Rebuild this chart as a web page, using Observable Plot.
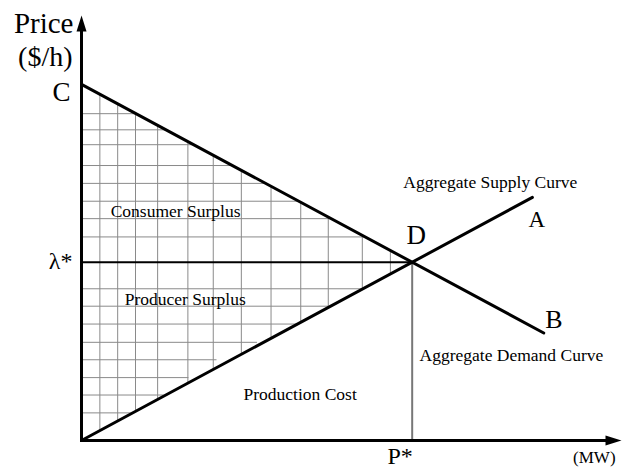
<!DOCTYPE html>
<html><head><meta charset="utf-8">
<script src="https://cdn.jsdelivr.net/npm/d3@7"></script>
<script src="https://cdn.jsdelivr.net/npm/@observablehq/plot@0.6"></script>
<style>body{margin:0;background:#fff}</style>
</head><body><div id="chart"></div>
<script>
// Curve end points (quantity q, price p) in chart units
const demandPoints = [{q: 0, p: 83.8}, {q: 85.6, p: 25.3}];   // C -> B
const supplyPoints = [{q: 0, p: 0}, {q: 83.5, p: 57.2}];      // origin -> A
// Hatch grid
const gridQ = [3.4, 6.7, 10.0, 14.1, 19.7, 24.4, 29.6, 35.1, 40.6, 45.7, 52.0, 57.2];
const gridPUpper = [76.9, 73.1, 69.6, 64.7, 60.5, 56.3, 52.2, 47.9];
const gridPLower = [35.7, 31.6, 27.4, 23.1, 19.0, 14.8, 10.7, 6.5];
const gridPLowerEnd = [52.0, 45.7, 40.0, 32.5, 25.0, 19.8, 15.2, 9.1];
// Texts
const pointLabels = ["C", "D", "A", "B"];
const axisLabels = ["Price", "($/h)", "(MW)"];
const markerLabels = ["λ*", "P*"];
const curveLabels = ["Aggregate Supply Curve", "Aggregate Demand Curve"];
const areaLabels = ["Consumer Surplus", "Producer Surplus", "Production Cost"];

const mkLine = ([a, b]) => {
  const m = (b.p - a.p) / (b.q - a.q);
  return {m, at: q => a.p + m * (q - a.q), inv: p => a.q + (p - a.p) / m};
};
const dem = mkLine(demandPoints), sup = mkLine(supplyPoints);
const Dq = (dem.at(0) - sup.at(0)) / (sup.m - dem.m);
const Dp = sup.at(Dq);

const segs = [
  ...gridQ.map(q => ({x1: q, x2: q, y1: sup.at(q), y2: dem.at(q)})),
  ...gridPUpper.map(p => ({x1: 0, x2: dem.inv(p), y1: p, y2: p})),
  ...gridPLower.map((p, i) => ({x1: 0, x2: gridPLowerEnd[i], y1: p, y2: p}))
];

const arrowUp = {draw(c) { c.moveTo(0, 0); c.lineTo(-5, 16); c.lineTo(5, 16); c.closePath(); }};
const arrowRight = {draw(c) { c.moveTo(0, 0); c.lineTo(-16, -5); c.lineTo(-16, 5); c.closePath(); }};

const FONT = "Liberation Serif, Times New Roman, serif";
const txt = (s, x, y, o = {}) => Plot.text([s], {x, y, text: d => d, fontFamily: FONT, lineAnchor: "bottom", fill: "black", ...o});

const chart = Plot.plot({
  width: 629, height: 472,
  x: {domain: [0, 100], range: [81, 621], axis: null},
  y: {domain: [0, 100], range: [440, 15], axis: null},
  style: {background: "white", fontFamily: FONT},
  marks: [
    Plot.link(segs, {x1: "x1", y1: "y1", x2: "x2", y2: "y2", stroke: "#8a8a8a", strokeWidth: 1}),
    Plot.link([{a: 0}], {x1: Dq, x2: Dq, y1: 0, y2: Dp, stroke: "#777", strokeWidth: 2}),
    Plot.link([{a: 0}], {x1: 0, x2: Dq, y1: Dp, y2: Dp, stroke: "black", strokeWidth: 2}),
    Plot.line(demandPoints, {x: "q", y: "p", stroke: "black", strokeWidth: 3}),
    Plot.line(supplyPoints, {x: "q", y: "p", stroke: "black", strokeWidth: 3}),
    // axes
    Plot.link([{a: 0}], {x1: 0, x2: 0, y1: 0, y2: 96.5, stroke: "black", strokeWidth: 3, strokeLinecap: "square"}),
    Plot.link([{a: 0}], {x1: 0, x2: 97.5, y1: 0, y2: 0, stroke: "black", strokeWidth: 3, strokeLinecap: "square"}),
    Plot.dot([0], {x: 0, y: 100, symbol: arrowUp, fill: "black", stroke: "none"}),
    Plot.dot([0], {x: 100, y: 0, symbol: arrowRight, fill: "black", stroke: "none"}),
    // axis labels
    txt(axisLabels[0], 0, 96, {textAnchor: "end", dx: -8, fontSize: 29}),
    txt(axisLabels[1], 0, 88.2, {textAnchor: "end", dx: -9, fontSize: 28}),
    txt(axisLabels[2], 98.9, -5.4, {textAnchor: "end", fontSize: 17}),
    // point labels
    txt(pointLabels[0], 0, dem.at(0), {textAnchor: "end", dx: -11, dy: 17, fontSize: 27}),
    txt(pointLabels[1], Dq, Dp, {textAnchor: "middle", dx: 4, dy: -18, fontSize: 27}),
    txt(pointLabels[2], 82.8, 50.2, {textAnchor: "start", fontSize: 23}),
    txt(pointLabels[3], 85.9, 26.4, {textAnchor: "start", fontSize: 26}),
    txt(markerLabels[0], 0, Dp, {textAnchor: "end", dx: -9, dy: 7, fontSize: 24}),
    txt(markerLabels[1], Dq, -5.6, {textAnchor: "middle", dx: -12, fontSize: 24}),
    // curve and area labels
    txt(curveLabels[0], 59.6, 59.3, {textAnchor: "start", fontSize: 17.5}),
    txt(curveLabels[1], 62.6, 18.8, {textAnchor: "start", fontSize: 17.5}),
    txt(areaLabels[0], 5.4, 52.7, {textAnchor: "start", fontSize: 17.5}),
    txt(areaLabels[1], 8.0, 31.8, {textAnchor: "start", fontSize: 17.5}),
    txt(areaLabels[2], 30.0, 9.6, {textAnchor: "start", fontSize: 17.5})
  ]
});
document.getElementById("chart").appendChild(chart);
</script>
</body></html>
